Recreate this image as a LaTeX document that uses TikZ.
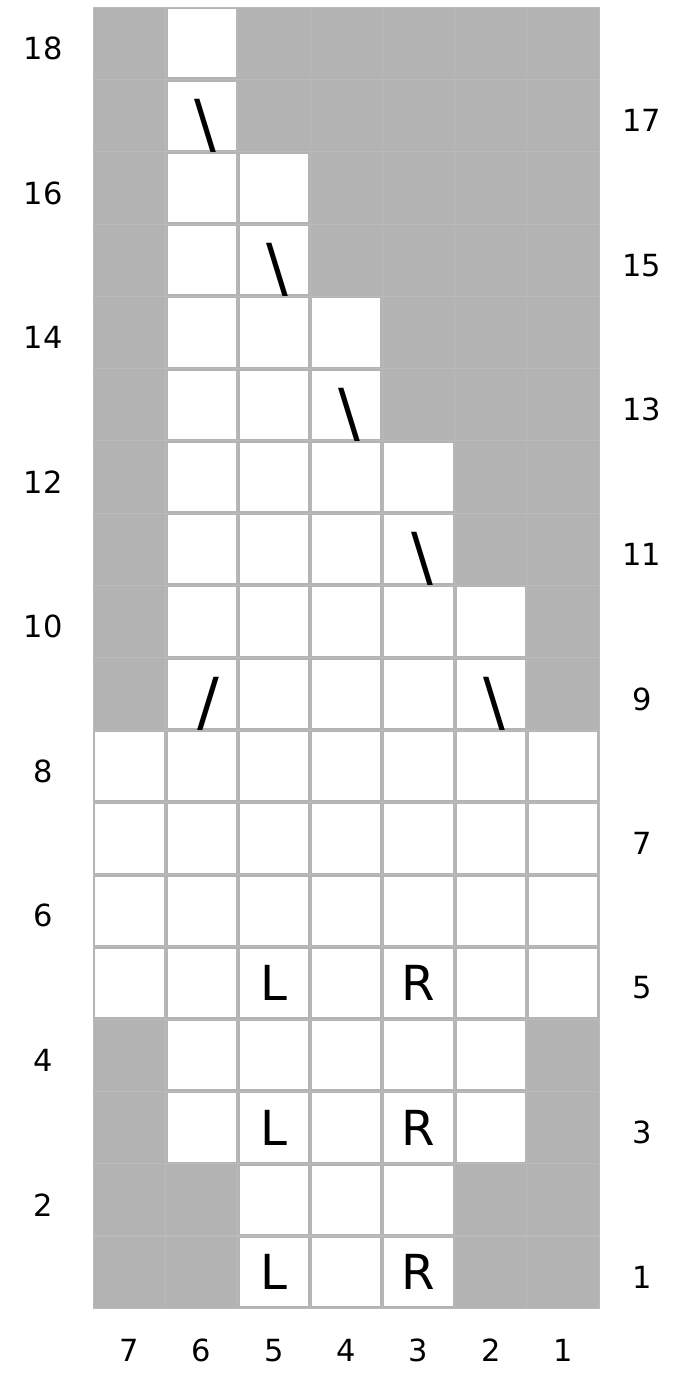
\documentclass[tikz,border=0pt]{standalone}
\usepackage{fontspec}
\setmainfont{DejaVu Sans}
\usepackage{xcolor}
\usepackage{tikz}
\definecolor{gridbg}{RGB}{179,179,179}
\definecolor{gridline}{RGB}{186,186,186}
\newcommand{\labelfont}{\fontsize{12}{14}\selectfont}
\newcommand{\markfont}{\fontsize{19}{22}\selectfont}
\newcommand{\slashfont}{\fontsize{25.5}{30}\selectfont}
\tikzset{
  shadebox/.style={fill=gridbg, draw=gridline, line width=0.4pt,
    inner sep=0pt, minimum size=1cm},
  openbox/.style={fill=white, inner sep=0pt, minimum size=0.944cm},
  marklabel/.style={font=\markfont, inner sep=0pt},
  slashmark/.style={font=\slashfont, inner sep=0pt, anchor=north},
  rowlabel/.style={font=\labelfont, inner sep=0pt},
  collabel/.style={font=\labelfont, inner sep=0pt}
}

\begin{document}
\begin{tikzpicture}[x=1cm,y=1cm]
  \useasboundingbox (-1.29,-1.02) rectangle (8.20,18.10);
  \fill[gridbg] (0,0) rectangle (7,18);

  % grey board first, open cells on top
  \foreach \r in {1,...,18}
    \foreach \c in {1,...,7}
      \node[shadebox] (bg-\r-\c) at (7.5-\c,\r-0.5) {};

  % row / leftmost open column / rightmost open column
  \foreach \r/\cl/\cr in {18/6/6,17/6/6,16/6/5,15/6/5,14/6/4,13/6/4,
      12/6/3,11/6/3,10/6/2,9/6/2,8/7/1,7/7/1,6/7/1,5/7/1,4/6/2,3/6/2,
      2/5/3,1/5/3}
    \foreach \c in {\cr,...,\cl}
      \node[openbox] (cell-\r-\c) at (7.5-\c,\r-0.5) {};

  \foreach \r in {1,3,5} {
    \node[marklabel] (left-\r) at (cell-\r-5) {L};
    \node[marklabel] (right-\r) at (cell-\r-3) {R};
  }

  \foreach \r/\c in {17/6,15/5,13/4,11/3,9/2}
    \node[slashmark] (back-\r-\c) at ([xshift=0.05cm,yshift=-0.24cm]cell-\r-\c.north)
      {\textbackslash};
  \node[slashmark] (fwd-9-6) at ([xshift=0.10cm,yshift=-0.24cm]cell-9-6.north) {/};

  \foreach \r in {2,4,...,18}
    \node[rowlabel] (row-\r) at (-0.69,\r-0.57) {\r};
  \foreach \r in {1,3,...,17}
    \node[rowlabel] (row-\r) at (7.59,\r-0.57) {\r};
  \foreach \c in {1,...,7}
    \node[collabel] (col-\c) at (7.5-\c,-0.58) {\c};
\end{tikzpicture}
\end{document}
